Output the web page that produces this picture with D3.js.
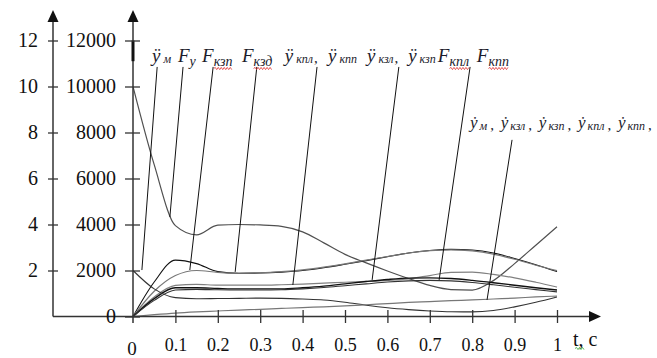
<!DOCTYPE html>
<html><head><meta charset="utf-8">
<script src="https://cdn.jsdelivr.net/npm/d3@7"></script>
<style>body{margin:0;background:#fff}svg{display:block}</style>
</head><body>
<svg id="c" width="657" height="358"></svg>
<script>
// ---- data ----
const times   = [0,0.05,0.1,0.15,0.2,0.25,0.3,0.35,0.4,0.45,0.5,0.55,0.6,0.65,0.7,0.75,0.8,0.85,0.9,0.95,1];
const curveA  = [10000,6600,3950,3550,3970,4000,3980,3920,3680,3200,2700,2330,1980,1650,1350,1170,1150,1560,2300,3100,3900];
const curveC  = [0,1500,2450,2300,1950,1880,1890,1930,2000,2120,2270,2430,2600,2760,2870,2920,2890,2760,2520,2250,1950];
const curveD  = [0,1100,1780,2000,1920,1880,1900,1950,2030,2150,2290,2450,2610,2760,2860,2900,2850,2710,2490,2230,1990];
const curveG1 = [0,850,1350,1400,1360,1360,1360,1380,1410,1450,1490,1530,1570,1640,1780,1920,1930,1830,1680,1490,1280];
const curveG2 = [0,780,1250,1250,1220,1200,1200,1200,1250,1320,1420,1520,1610,1670,1680,1650,1570,1470,1360,1250,1150];
const curveG4 = [0,700,1150,1180,1160,1150,1150,1160,1200,1260,1340,1420,1500,1550,1570,1550,1480,1380,1270,1170,1070];
const curveB  = [2000,1200,820,770,780,790,800,790,760,720,620,490,380,300,240,205,200,260,420,620,850];
const curveE  = [0,80,150,200,240,280,310,350,390,420,460,510,560,610,650,690,720,760,800,850,890];

const rightTicks = [0,2000,4000,6000,8000,10000,12000];
const leftTicks  = [2,4,6,8,10,12];
const xTicks     = [0.1,0.2,0.3,0.4,0.5,0.6,0.7,0.8,0.9,1];

// labels on top: [main glyph, subscript, suffix, t-position]
const topLabels = [
  ["ÿ","м","",0.045],["F","у","",0.106],["F","кзп","",0.163],["F","кзд","",0.257],
  ["ÿ","кпл"," ,",0.358],["ÿ","кпп","",0.460],["ÿ","кзл"," ,",0.552],["ÿ","кзп","",0.649],
  ["F","кпл","",0.719],["F","кпп","",0.811]
];
const wavySubs = ["кзп|F","кзд|F","кпл|F","кпп|F"];
const rightLabelSubs = ["м","кзл","кзп","кпл","кпп"];
// leader lines: [tTop, vTop, tBottom, vBottom]
const leaders = [
  [0.057,10850,0.021,2020],[0.118,10850,0.087,4330],[0.189,10850,0.134,2020],
  [0.292,10850,0.241,1940],[0.434,10850,0.377,1370],[0.627,10850,0.564,1590],
  [0.795,10850,0.722,1590],[0.894,7680,0.835,720]
];

// ---- drawing ----
const svg = d3.select("#c");
const x = d3.scaleLinear().domain([0,1]).range([133,557]);
const y = d3.scaleLinear().domain([0,12000]).range([316.5,40.5]);
const yL = d3.scaleLinear().domain([0,12]).range([316.5,40.5]);
const axisColor = "#333";
const FONT = "Liberation Serif";

const styles = [
  [curveA,"#505050",1.2],[curveC,"#111",1.1],[curveD,"#777",1.2],
  [curveG1,"#808080",1.2],[curveG2,"#111",1.4],[curveG4,"#333",1.1],
  [curveB,"#333",1.1],[curveE,"#777",1.2]
];
const line = d3.line().x((d,i)=>x(times[i])).y(d=>y(d)).curve(d3.curveMonotoneX);
styles.forEach(([vals,col,w])=>{
  svg.append("path").attr("d",line(vals)).attr("fill","none").attr("stroke",col).attr("stroke-width",w);
});

leaders.forEach(l=>{
  svg.append("line").attr("x1",x(l[0])).attr("y1",y(l[1])).attr("x2",x(l[2])).attr("y2",y(l[3]))
    .attr("stroke","#111").attr("stroke-width",1);
});

svg.append("line").attr("x1",53).attr("x2",591).attr("y1",y(0)).attr("y2",y(0)).attr("stroke",axisColor).attr("stroke-width",1.5);
svg.append("line").attr("x1",53).attr("x2",53).attr("y1",20).attr("y2",y(0)).attr("stroke",axisColor).attr("stroke-width",1.5);
svg.append("line").attr("x1",x(0)).attr("x2",x(0)).attr("y1",20).attr("y2",323).attr("stroke",axisColor).attr("stroke-width",1.5);
svg.append("line").attr("x1",x(0)).attr("x2",x(0)).attr("y1",y(12000)).attr("y2",y(11100)).attr("stroke","#111").attr("stroke-width",3);
svg.append("path").attr("d","M53,10 L47.5,22 L58.5,22 Z").attr("fill","#111");
svg.append("path").attr("d",`M${x(0)},10 L${x(0)-5.5},22 L${x(0)+5.5},22 Z`).attr("fill","#111");
svg.append("path").attr("d",`M601,${y(0)} L589,${y(0)-5.5} L589,${y(0)+5.5} Z`).attr("fill","#111");

function styleText(sel,size){
  sel.attr("font-family",FONT).attr("font-size",size).attr("fill","#111");
}

const gR = svg.append("g").attr("transform",`translate(${x(0)},0)`)
  .call(d3.axisLeft(y).tickValues(rightTicks).tickSize(8).tickPadding(9).tickFormat(d3.format("d")));
gR.attr("font-family",FONT);
gR.select(".domain").remove();
gR.selectAll(".tick line").attr("x1",7).attr("stroke",axisColor).attr("stroke-width",1.3);
styleText(gR.selectAll(".tick text"),20);

const gL = svg.append("g").attr("transform","translate(53,0)")
  .call(d3.axisLeft(yL).tickValues(leftTicks).tickSize(5).tickPadding(10).tickFormat(d3.format("d")));
gL.attr("font-family",FONT);
gL.select(".domain").remove();
gL.selectAll(".tick line").attr("x1",5).attr("stroke",axisColor).attr("stroke-width",1.3);
styleText(gL.selectAll(".tick text"),20);

const gX = svg.append("g").attr("transform",`translate(0,${y(0)})`)
  .call(d3.axisBottom(x).tickValues(xTicks).tickSize(6.5).tickPadding(0).tickFormat(d=>String(+d.toFixed(1))));
gX.attr("font-family",FONT);
gX.select(".domain").remove();
gX.selectAll(".tick line").attr("y1",-6.5).attr("stroke",axisColor).attr("stroke-width",1.3);
styleText(gX.selectAll(".tick text"),18);
gX.selectAll(".tick text").attr("y",34).attr("dy",0);
styleText(svg.append("text").attr("x",x(0)-1).attr("y",355).attr("text-anchor","middle").text("0"),19);
styleText(svg.append("text").attr("x",573).attr("y",346).text("t, c"),20);

function wavy(x1,x2,yy,col){
  let d=`M${x1},${yy}`; let up=true;
  for(let xx=x1+1.5; xx<=x2; xx+=1.5){ d+=` L${xx},${yy+(up?-1.1:1.1)}`; up=!up; }
  svg.append("path").attr("d",d).attr("fill","none").attr("stroke",col).attr("stroke-width",0.8);
}
wavy(575,584,348.5,"#3a3");

topLabels.forEach(([m,sub,suf,t])=>{
  const x0 = x(t);
  const isF = m==="F";
  const mt = svg.append("text").attr("x",x0).attr("y",62).attr("font-style","italic").text(m);
  styleText(mt,19); mt.attr("fill","#1b1b2b");
  const w = mt.node().getComputedTextLength();
  const sy = isF?66:63;
  const st = svg.append("text").attr("x",x0+w+(isF?0:3)).attr("y",sy).attr("font-style","italic").text(sub);
  styleText(st,isF?14:12); st.attr("fill","#1b1b2b");
  const sw = st.node().getComputedTextLength();
  if(wavySubs.includes(sub+"|"+m)) wavy(x0+w, x0+w+sw, sy+2.5, "#e03030");
  if(suf){ const ct = svg.append("text").attr("x",x0+w+4+sw).attr("y",63).text(suf); styleText(ct,15); ct.attr("fill","#1b1b2b"); }
});

let rx = 470;
rightLabelSubs.forEach((sub)=>{
  const mt = svg.append("text").attr("x",rx).attr("y",128).attr("font-style","italic").text("ẏ");
  styleText(mt,17); mt.attr("fill","#1b1b2b");
  rx += mt.node().getComputedTextLength()+2;
  const st = svg.append("text").attr("x",rx).attr("y",130).attr("font-style","italic").text(sub);
  styleText(st,12); st.attr("fill","#1b1b2b");
  rx += st.node().getComputedTextLength();
  const ct = svg.append("text").attr("x",rx+3).attr("y",130).text(",");
  styleText(ct,15); ct.attr("fill","#1b1b2b");
  rx += 13.5;
});
</script>
</body></html>
